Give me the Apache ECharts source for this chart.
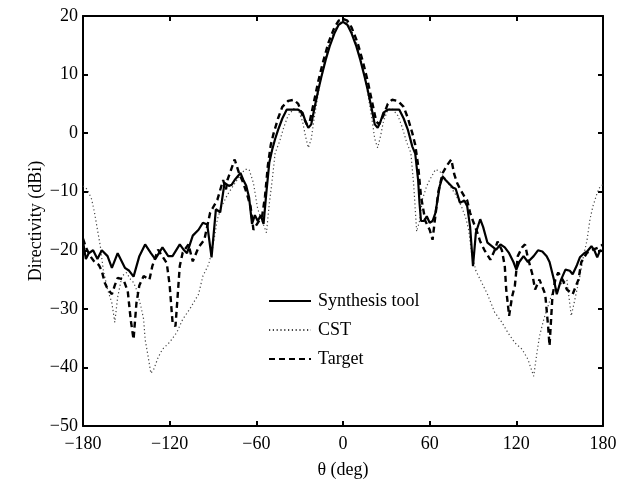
<!DOCTYPE html>
<html>
<head>
<meta charset="utf-8">
<script src="https://cdn.jsdelivr.net/npm/echarts@6/dist/echarts.min.js"></script>
<style>
html,body{margin:0;padding:0;background:#fff;}
#chart{width:623px;height:484px;}
</style>
</head>
<body>
<div id="chart"></div>
<script>
// ---- data ----
const xTicks = [-180, -120, -60, 0, 60, 120, 180];
const yTicks = [-50, -40, -30, -20, -10, 0, 10, 20];

const synthTheta = [-180,-178,-176,-173,-170,-167,-163,-160,-156,-151,-148,-145,-141,-137,-133,-130,-125,-121,-118,-113,-110,-108,-104,-100,-97,-94,-91,-88,-85,-82,-79,-77,-75,-73,-71,-69,-67,-65,-63,-61,-59,-57,-55,-53,-51,-49,-47,-45,-42,-39,-35,-31,-28,-26,-24,-22,-20,-17,-15,-12,-9,-6,-3,0,3,6,9,12,15,17,20,22,24,26,28,31,35,39,42,45,48,50,52,53,54,56,58,60,62,64,67,69,71,73,76,78,81,84,86,88,90,92,95,97,100,103,106,109,112,115,118,120,122,125,128,132,135,138,141,143,146,148,151,154,157,159,162,164,167,169,172,174,176,178,180];
const synthDb = [-18.5,-21.5,-20.5,-20,-21.5,-20,-21,-23,-20.5,-23,-23.5,-24.5,-21,-19,-20.5,-21.5,-19.5,-21,-21,-19,-20,-20.5,-17.5,-16.5,-15.3,-15.6,-21.2,-13,-13.5,-8.5,-9,-8.8,-8,-7.4,-6.8,-8,-9,-11,-15.5,-14,-15,-14,-15.5,-10,-5,-2.8,-1,0.5,2.5,4,4,4,3.5,2,0.9,1.5,4,7.5,9.6,12.5,15,17,18.5,19,18.5,17,15,12.5,9.6,7.5,4,1.5,0.9,2,3.5,4,4,4,2.5,0.5,-2.3,-3.5,-8,-12,-15,-15,-14.2,-15.3,-15,-13.6,-9,-7.4,-8,-8.5,-9.3,-9.5,-11.9,-11.5,-12.5,-16,-22.7,-17,-14.7,-16,-18.7,-19.3,-19.9,-19,-19.5,-20.5,-22,-23.3,-22,-21,-22,-21,-20,-20.2,-21,-22,-25,-27.5,-25,-23.3,-23.5,-24.1,-22.5,-21.2,-20.5,-20.2,-19.3,-20,-21.2,-20,-20.2];

const cstTheta = [-180,-177,-174,-172,-170,-168,-166,-163,-160,-158,-156,-153,-150,-147,-145,-143,-140,-138,-137,-135,-133,-131,-128,-125,-120,-115,-111,-106,-100,-97,-93,-90,-87,-84,-80,-76,-72,-68,-65,-62,-59,-56,-53,-51,-49,-47,-44,-41,-38,-34,-31,-28,-26,-24,-22,-20,-17,-14,-10,-6,-3,0,3,6,10,14,17,20,22,24,26,28,31,34,38,41,44,47,49,51,53,55,58,60,64,67,70,74,78,82,85,87,89,92,95,100,105,110,114,119,124,128,132,134,136,139,142,145,150,155,158,160,162,164,166,169,171,173,176,178,180];
const cstDb = [-9,-9.6,-11.3,-13.6,-16.5,-19.3,-23.3,-26.7,-29,-32.3,-28,-24.4,-23.8,-25,-25.5,-26.7,-29.5,-31.8,-35.2,-38,-41,-40.3,-38.3,-36.9,-35.7,-34,-31.8,-30,-27.5,-24.4,-22.4,-19.3,-14.7,-12.5,-10.5,-9,-7.5,-6.2,-6.2,-8.5,-13,-15,-17,-12,-8,-3.4,-1.5,1,3,4.2,4,2,-0.5,-2.5,-1,2.5,7,11,15,17.5,18.8,19.2,18.8,17.5,15,11,7,2.5,-1,-2.5,-0.5,2,4,4.2,3,1,-1.5,-3.4,-9,-16.8,-15,-11.3,-9,-8,-6.2,-6.5,-7.5,-9,-10.5,-12.5,-14.5,-16.5,-20.4,-23.5,-25,-27.5,-30.6,-32.3,-34,-35.8,-36.9,-38.6,-41.5,-38,-34.7,-31.8,-29.5,-27.2,-26,-25,-31.2,-29,-26.7,-24.4,-21.6,-18.2,-14.7,-12.5,-10.2,-9.1,-8.8];

const targetTheta = [-180,-178,-175,-172,-169,-167,-165,-163,-160,-158,-156,-152,-149,-147,-145,-143,-141,-138,-134,-132,-128,-122,-120,-118,-116,-115,-113,-111,-107,-104,-100,-96,-92,-90,-87,-83,-81,-80,-75,-72,-69,-66,-64,-62,-59,-56,-54,-52,-50,-48,-45,-42,-38,-34,-31,-28,-25,-23,-20,-17,-14,-10,-6,-3,0,3,6,10,14,17,20,23,25,28,31,34,38,42,45,48,50,52,54,57,60,62,64,66,69,72,75,77,79,81,84,86,88,90,93,95,98,102,105,107,110,112,113,115,117,119,121,124,126,128,131,133,136,140,142,143,145,147,149,152,155,159,163,165,169,173,177,180];
const targetDb = [-18,-19.5,-21,-22,-22.5,-23.5,-25.5,-26.6,-27.5,-26,-24.7,-25,-27,-31.8,-35.2,-29,-26,-24.4,-25,-22.7,-19.9,-22.2,-26,-32.3,-33,-29.6,-22.7,-20.4,-19,-21.9,-19.5,-18.2,-13.6,-12.7,-11.4,-8,-9.6,-8,-4.5,-6.8,-8.5,-10.8,-12.5,-16.5,-15.3,-14.2,-10.8,-5.5,-2,0,2.5,4.5,5.5,5.7,5,3,1.5,2,5.5,9,12,15.5,18,19.2,19.5,19.2,18,15.5,12,9,5.5,2,1.5,3,5,5.7,5.5,4.5,2.5,0,-2,-5.5,-10.8,-15,-16.5,-18.2,-14,-10,-6.8,-5.5,-4.5,-7,-8.5,-9.5,-10.8,-11.5,-13.6,-15,-17,-18.5,-20,-21.6,-20,-18.5,-20,-22.7,-26.7,-31.2,-28,-26,-21,-19.5,-19,-21.3,-24,-26.7,-25,-27.5,-33,-36.3,-27.8,-25,-23.8,-25,-26.7,-27.5,-25,-22,-20.4,-19.9,-19.5,-19];

const seriesNames = ['Synthesis tool', 'CST', 'Target'];

function pairs(xs, ys){ return xs.map((x,i)=>[x, ys[i]]); }
const FONT = "'Liberation Serif','Times New Roman',serif";
const fmt = v => String(v).replace('-', '\u2212');

const chart = echarts.init(document.getElementById('chart'), null, {renderer:'canvas'});
const axisLineStyle = {show:true, onZero:false, lineStyle:{color:'#000', width:2}};
const tickStyle = {show:true, inside:true, length:5, lineStyle:{color:'#000', width:2}};

chart.setOption({
  animation:false,
  backgroundColor:'#fff',
  grid:{left:83, right:20, top:16, bottom:57, containLabel:false},
  legend:{
    data:seriesNames,
    orient:'vertical',
    left:263, top:287,
    itemWidth:42, itemHeight:18, itemGap:11,
    itemStyle:{color:'rgba(0,0,0,0)', borderColor:'rgba(0,0,0,0)', borderWidth:0, opacity:0},
    textStyle:{fontFamily:FONT, fontSize:18, color:'#000', padding:[0,0,0,2]}
  },
  xAxis:[{
    type:'value', min:-180, max:180, interval:60, position:'bottom',
    axisLine:axisLineStyle, axisTick:tickStyle, splitLine:{show:false},
    axisLabel:{fontFamily:FONT, fontSize:18, color:'#000', margin:9, formatter:fmt},
    name:'\u03b8 (deg)', nameLocation:'middle', nameGap:35, nameMoveOverlap:false,
    nameTextStyle:{fontFamily:FONT, fontSize:18, color:'#000'}
  },{
    type:'value', min:-180, max:180, interval:60, position:'top',
    axisLine:axisLineStyle, axisTick:tickStyle, axisLabel:{show:false}, splitLine:{show:false}
  }],
  yAxis:[{
    type:'value', min:-50, max:20, interval:10, position:'left',
    axisLine:axisLineStyle, axisTick:tickStyle, splitLine:{show:false},
    axisLabel:{fontFamily:FONT, fontSize:18, color:'#000', margin:5, formatter:fmt},
    name:'Directivity (dBi)', nameLocation:'middle', nameGap:38, nameRotate:90, nameMoveOverlap:false,
    nameTextStyle:{fontFamily:FONT, fontSize:18, color:'#000'}
  },{
    type:'value', min:-50, max:20, interval:10, position:'right',
    axisLine:axisLineStyle, axisTick:tickStyle, axisLabel:{show:false}, splitLine:{show:false}
  }],
  series:[
    {name:seriesNames[0], type:'line', data:pairs(synthTheta, synthDb), symbol:'none',
     lineStyle:{color:'#000', width:2.2, type:'solid'}, itemStyle:{color:'#000'}, z:3},
    {name:seriesNames[1], type:'line', data:pairs(cstTheta, cstDb), symbol:'none',
     lineStyle:{color:'#444', width:1.2, type:[1.2,2.6]}, itemStyle:{color:'#444'}, z:2},
    {name:seriesNames[2], type:'line', data:pairs(targetTheta, targetDb), symbol:'none',
     lineStyle:{color:'#000', width:2.4, type:[6,4]}, itemStyle:{color:'#000'}, z:4}
  ]
});
</script>
</body>
</html>
